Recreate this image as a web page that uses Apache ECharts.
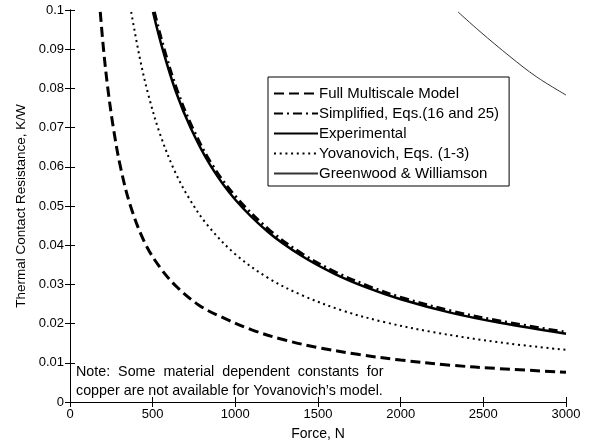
<!DOCTYPE html>
<html>
<head>
<meta charset="utf-8">
<script src="https://cdn.jsdelivr.net/npm/echarts@6/dist/echarts.min.js"></script>
<style>html,body{margin:0;padding:0;background:#fff;}#c{width:597px;height:447px;}</style>
</head>
<body>
<div id="c"></div>
<script>
// Full Multiscale Model [force N, resistance K/W]
var fullMultiscale = [[183,0.0995],[205,0.089],[230,0.0796],[262,0.07],[305,0.06],[366,0.05],[455,0.0404],[550,0.034],[650,0.0292],[780,0.0247],[900,0.022],[1100,0.0184],[1300,0.0158],[1500,0.0139],[1750,0.0121],[2000,0.0107],[2300,0.0094],[2600,0.0085],[3000,0.0076]];
// Simplified, Eqs.(16 and 25)
var simplified = [[510,0.0995],[568,0.0902],[648,0.0795],[738,0.0702],[858,0.0606],[1008,0.0521],[1208,0.0438],[1408,0.0377],[1608,0.0331],[1808,0.0295],[2008,0.0266],[2308,0.0232],[2608,0.0206],[3000,0.0178]];
// Experimental
var experimental = [[502,0.0995],[560,0.09],[640,0.0792],[730,0.0699],[850,0.0603],[1000,0.0516],[1200,0.0433],[1400,0.0373],[1600,0.0327],[1800,0.0291],[2000,0.0262],[2300,0.0228],[2600,0.0202],[3000,0.0174]];
// Yovanovich, Eqs. (1-3)
var yovanovich = [[370,0.0995],[420,0.0882],[470,0.079],[540,0.0689],[630,0.0592],[720,0.052],[830,0.0452],[1000,0.0377],[1200,0.0316],[1400,0.0273],[1650,0.0233],[1900,0.0204],[2200,0.0178],[2600,0.0152],[3000,0.0133]];
// Greenwood & Williamson
var greenwood = [[2347,0.0995],[2480,0.0945],[2662,0.0881],[2820,0.083],[3000,0.0783]];

var seriesNames = ['Full Multiscale Model','Simplified, Eqs.(16 and 25)','Experimental','Yovanovich, Eqs. (1-3)','Greenwood & Williamson'];
var xTicks = {min:0, max:3000, interval:500};
var yTicks = {min:0, max:0.1, interval:0.01};
var xTitle = 'Force, N';
var yTitle = 'Thermal Contact Resistance, K/W';
var noteLines = ['Note:  Some  material  dependent  constants  for', 'copper are not available for Yovanovich\u2019s model.'];

var FONT = '"Liberation Sans", Arial, Helvetica, sans-serif';
var chart = echarts.init(document.getElementById('c'), null, {renderer:'canvas'});

function mk(name, data, width, type, color) {
  return {
    name: name, type: 'line', data: data, smooth: 0.35, symbol: 'none',
    xAxisIndex: 0, yAxisIndex: 0, clip: true,
    lineStyle: {width: width, type: type, color: color, cap: 'butt'},
    itemStyle: {color: color},
    emphasis: {disabled: true}, animation: false
  };
}

var axisCommon = {
  axisLine: {show: true, lineStyle: {color: '#000', width: 1}},
  axisTick: {show: true, inside: true, length: 5, lineStyle: {color: '#000'}},
  splitLine: {show: false}
};

var option = {
  backgroundColor: '#fff',
  animation: false,
  textStyle: {fontFamily: FONT},
  grid: {left: 70, right: 31, top: 10, bottom: 45, show: false},
  legend: {
    data: seriesNames,
    orient: 'vertical',
    left: 268, top: 77,
    itemWidth: 44, itemHeight: 14, itemGap: 5,
    padding: [9, 10, 5, 5],
    borderColor: '#000', borderWidth: 1, borderRadius: 0,
    backgroundColor: '#fff',
    itemStyle: {opacity: 0},
    textStyle: {color: '#000', fontSize: 15, fontFamily: FONT, padding: [0,0,0,-4]},
    selectedMode: false
  },
  xAxis: [
    Object.assign({type: 'value', position: 'bottom', min: xTicks.min, max: xTicks.max, interval: xTicks.interval,
      name: xTitle, nameLocation: 'middle', nameGap: 25,
      nameTextStyle: {color: '#000', fontSize: 14, fontFamily: FONT},
      axisLabel: {color: '#000', fontFamily: FONT, fontSize: 13, margin: 6, formatter: function(v){ return String(v); }}}, axisCommon),
    Object.assign({type: 'value', position: 'top', min: xTicks.min, max: xTicks.max, interval: xTicks.interval,
      axisLabel: {show: false}}, axisCommon)
  ],
  yAxis: [
    Object.assign({type: 'value', position: 'left', min: yTicks.min, max: yTicks.max, interval: yTicks.interval,
      name: yTitle, nameLocation: 'middle', nameGap: 41,
      nameTextStyle: {color: '#000', fontSize: 13.5, fontFamily: FONT},
      axisLabel: {color: '#000', fontFamily: FONT, fontSize: 13, margin: 6}}, axisCommon),
    Object.assign({type: 'value', position: 'right', min: yTicks.min, max: yTicks.max, interval: yTicks.interval,
      axisLabel: {show: false}}, axisCommon)
  ],
  series: [
    mk(seriesNames[0], fullMultiscale, 3, [10, 5], '#000'),
    mk(seriesNames[1], simplified, 3, [9, 4, 2, 4], '#000'),
    mk(seriesNames[2], experimental, 2.5, 'solid', '#000'),
    mk(seriesNames[3], yovanovich, 2, [2, 3.7], '#000'),
    mk(seriesNames[4], greenwood, 1, 'solid', '#333')
  ],
  graphic: [
    {type: 'text', left: 76, top: 365, silent: true,
     style: {text: noteLines[0], fill: '#000', font: '14.3px ' + FONT}},
    {type: 'text', left: 76, top: 384, silent: true,
     style: {text: noteLines[1], fill: '#000', font: '14.3px ' + FONT}}
  ]
};
chart.setOption(option);
</script>
</body>
</html>
